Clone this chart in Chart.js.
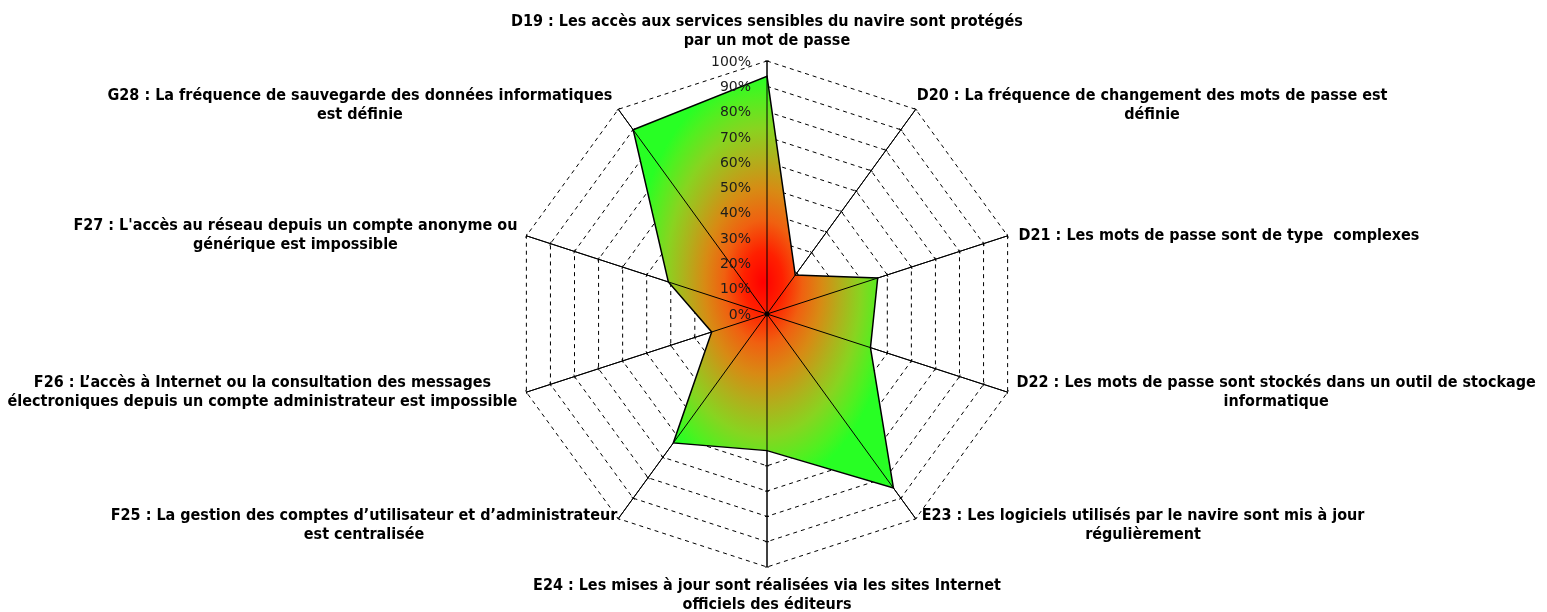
<!DOCTYPE html>
<html lang="fr">
<head>
    <meta charset="UTF-8">
    <title>Radar</title>
    <script src="https://cdn.jsdelivr.net/npm/chart.js@4.4.1/dist/chart.umd.min.js"></script>
    <style>
        html, body { margin: 0; padding: 0; background: #fff; }
        #wrap { width: 1547px; height: 612px; }
    </style>
</head>
<body>
    <div id="wrap"><canvas id="radar"></canvas></div>
    <script>
        // Axis labels (one array per label, one entry per line)
        const categories = [
            ['D19 : Les accès aux services sensibles du navire sont protégés', 'par un mot de passe'],
            ['D20 : La fréquence de changement des mots de passe est', 'définie'],
            ['D21 : Les mots de passe sont de type  complexes'],
            ['D22 : Les mots de passe sont stockés dans un outil de stockage', 'informatique'],
            ['E23 : Les logiciels utilisés par le navire sont mis à jour', 'régulièrement'],
            ['E24 : Les mises à jour sont réalisées via les sites Internet', 'officiels des éditeurs'],
            ['F25 : La gestion des comptes d\u2019utilisateur et d\u2019administrateur', 'est centralisée'],
            ['F26 : L\u2019accès à Internet ou la consultation des messages', 'électroniques depuis un compte administrateur est impossible'],
            ['F27 : L\'accès au réseau depuis un compte anonyme ou', 'générique est impossible'],
            ['G28 : La fréquence de sauvegarde des données informatiques', 'est définie']
        ];

        // Scores in percent
        const scores = [94, 19, 46, 43, 85, 54, 63, 23, 41, 90];

        const tickValues = [0, 10, 20, 30, 40, 50, 60, 70, 80, 90, 100];
        const tickLabels = tickValues.map(v => v + '%');

        // red centre -> green edge of an ellipse fitted in the shape's bounding box
        const fillStops = [
            [0.00, '#ff0000'],
            [0.15, '#ff2000'],
            [0.30, '#f06010'],
            [0.45, '#d88a14'],
            [0.60, '#b0b01c'],
            [0.75, '#88d420'],
            [0.90, '#50f020'],
            [1.00, '#28ff24']
        ];

        const labelFont = 'bold 16px "DejaVu Sans Condensed", "Liberation Sans Narrow", sans-serif';
        const tickFont = '14px "DejaVu Sans"';

        // ring marks + gradient fill + angle lines under the outline
        const shading = {
            id: 'shading',
            beforeDatasetsDraw(chart) {
                const s = chart.scales.r;
                const ctx = chart.ctx;
                const n = categories.length;
                const pts = chart.getDatasetMeta(0).data;
                ctx.save();

                ctx.strokeStyle = '#000';
                ctx.lineWidth = 1;
                for (let i = 0; i < n; i++) {
                    const a = s.getIndexAngle(i) - Math.PI / 2;
                    const px = -Math.sin(a), py = Math.cos(a);
                    tickValues.slice(1).forEach(v => {
                        const p = s.getPointPosition(i, s.getDistanceFromCenterForValue(v));
                        ctx.beginPath();
                        ctx.moveTo(p.x - px * 2, p.y - py * 2);
                        ctx.lineTo(p.x + px * 2, p.y + py * 2);
                        ctx.stroke();
                    });
                }

                const xs = pts.map(p => p.x), ys = pts.map(p => p.y);
                const x0 = Math.min(...xs), x1 = Math.max(...xs);
                const y0 = Math.min(...ys), y1 = Math.max(...ys);
                ctx.beginPath();
                pts.forEach((p, i) => { if (i === 0) ctx.moveTo(p.x, p.y); else ctx.lineTo(p.x, p.y); });
                ctx.closePath();
                ctx.save();
                ctx.translate((x0 + x1) / 2, (y0 + y1) / 2);
                ctx.scale((x1 - x0) / 2, (y1 - y0) / 2);
                const g = ctx.createRadialGradient(0, 0, 0, 0, 0, 1);
                fillStops.forEach(([t, c]) => g.addColorStop(t, c));
                ctx.fillStyle = g;
                ctx.fill();
                ctx.restore();

                ctx.strokeStyle = '#000';
                ctx.lineWidth = 1;
                for (let i = 0; i < n; i++) {
                    const p = s.getPointPosition(i, s.drawingArea);
                    ctx.beginPath();
                    ctx.moveTo(s.xCenter, s.yCenter);
                    ctx.lineTo(p.x, p.y);
                    ctx.stroke();
                }
                ctx.restore();
            }
        };

        // tick labels, axis labels and the centre dot
        const decorations = {
            id: 'decorations',
            afterDatasetsDraw(chart) {
                const s = chart.scales.r;
                const ctx = chart.ctx;
                const n = categories.length;
                ctx.save();

                ctx.fillStyle = '#000';
                ctx.beginPath();
                ctx.arc(s.xCenter, s.yCenter, 2.5, 0, Math.PI * 2);
                ctx.fill();

                ctx.font = tickFont;
                ctx.fillStyle = '#1c1c1c';
                ctx.textAlign = 'right';
                ctx.textBaseline = 'middle';
                tickValues.forEach((v, k) => {
                    const d = s.getDistanceFromCenterForValue(v);
                    ctx.fillText(tickLabels[k], s.xCenter - 16, s.yCenter - d + 1);
                });

                ctx.font = labelFont;
                ctx.fillStyle = '#000';
                ctx.textBaseline = 'middle';
                ctx.textAlign = 'center';
                const lh = 19;
                const gap = { 36: 1, 72: 11, 108: 9, 144: 6, 216: 1, 252: 9, 288: 9, 324: 6 };
                for (let i = 0; i < n; i++) {
                    const lines = categories[i];
                    const deg = Math.round(i * 360 / n);
                    const p = s.getPointPosition(i, s.drawingArea);
                    const w = Math.max(...lines.map(t => ctx.measureText(t).width));
                    const h = lines.length * lh;
                    let cx, top;
                    if (deg === 0) { cx = p.x; top = p.y - 11 - h; }
                    else if (deg === 180) { cx = p.x; top = p.y + 9; }
                    else {
                        cx = deg < 180 ? p.x + gap[deg] + w / 2 : p.x - gap[deg] - w / 2;
                        let cy = p.y;
                        if (deg === 36 || deg === 324) cy = p.y - 4;
                        if (deg === 144 || deg === 216) cy = p.y + 7;
                        top = cy - h / 2;
                    }
                    lines.forEach((t, k) => ctx.fillText(t, cx, top + lh * k + lh / 2));
                }
                ctx.restore();
            }
        };

        new Chart(document.getElementById('radar'), {
            type: 'radar',
            data: {
                labels: categories,
                datasets: [{
                    data: scores,
                    borderColor: '#000',
                    borderWidth: 1.5,
                    pointRadius: 0,
                    fill: false,
                    backgroundColor: 'rgba(0,0,0,0)'
                }]
            },
            options: {
                responsive: true,
                maintainAspectRatio: false,
                animation: false,
                layout: { padding: { top: 61, bottom: 45, left: 0, right: 13 } },
                plugins: { legend: { display: false }, tooltip: { enabled: false } },
                elements: { line: { tension: 0 } },
                scales: {
                    r: {
                        min: 0,
                        max: 100,
                        ticks: { stepSize: 10, display: false },
                        pointLabels: { display: false },
                        grid: { color: '#000', lineWidth: 1 },
                        border: { dash: [4, 4] },
                        angleLines: { color: '#000', lineWidth: 1 }
                    }
                }
            },
            plugins: [shading, decorations]
        });
    </script>
</body>
</html>
